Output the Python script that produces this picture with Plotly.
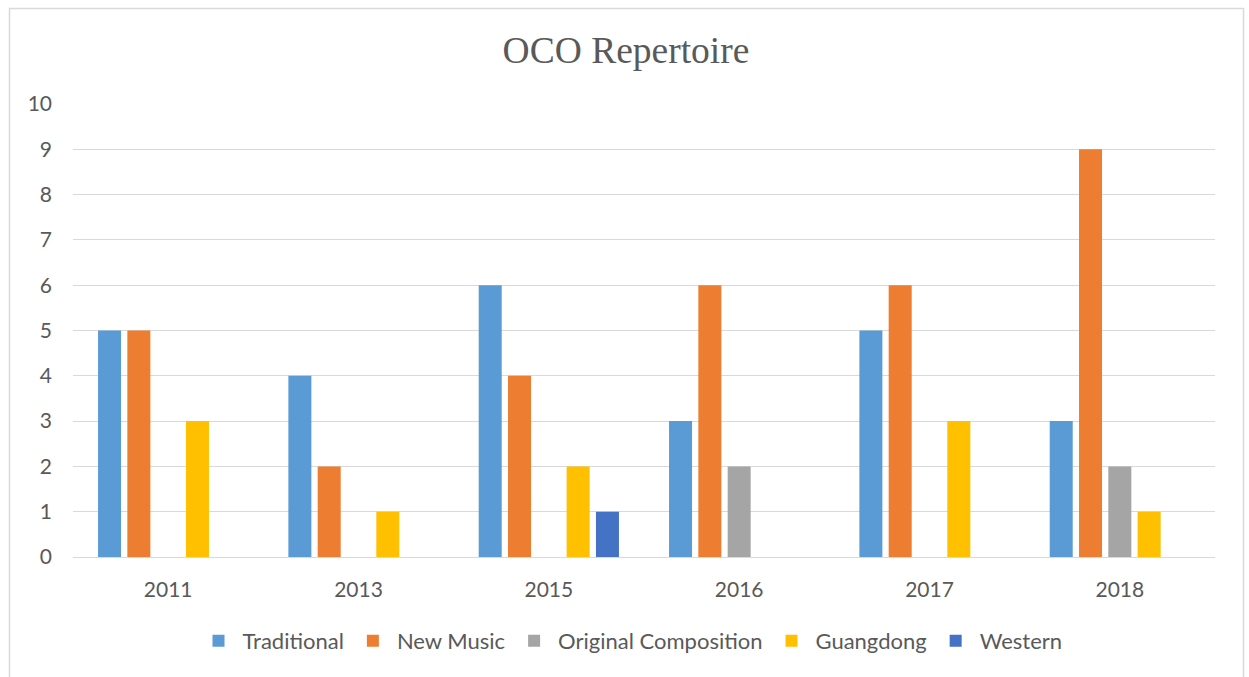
import plotly.graph_objects as go

years = ["2011", "2013", "2015", "2016", "2017", "2018"]
traditional = [5, 4, 6, 3, 5, 3]
new_music = [5, 2, 4, 6, 6, 9]
original_composition = [0, 0, 0, 2, 0, 2]
guangdong = [3, 1, 2, 0, 3, 1]
western = [0, 0, 1, 0, 0, 0]

series = [
    ("Traditional", traditional, "#5B9BD5"),
    ("New Music", new_music, "#ED7D31"),
    ("Original Composition", original_composition, "#A5A5A5"),
    ("Guangdong", guangdong, "#FFC000"),
    ("Western", western, "#4472C4"),
]

W, H = 1249, 677
L, R, T, B = 73, 34, 104, 120
pw, ph = W - L - R, H - T - B

fig = go.Figure()
for name, vals, col in series:
    fig.add_trace(go.Bar(x=years, y=vals, name=name, marker=dict(color=col, line=dict(width=0))))

def px_x(x):
    return (x - L) / pw

def px_y(y):
    return (H - B - y) / ph

fig.update_layout(
    width=W, height=H,
    margin=dict(l=L, r=R, t=T, b=B, autoexpand=False),
    paper_bgcolor="white", plot_bgcolor="white",
    barmode="group", bargap=0.23, bargroupgap=0.215,
    title=dict(text="OCO Repertoire", x=626 / W, xanchor="center", xref="container",
               y=1 - 50 / H, yanchor="middle",
               font=dict(family="Liberation Serif", size=37.5, color="#595959")),
    font=dict(family="Lato", size=21, color="#595959"),
    legend=dict(orientation="h", x=px_x(631), xanchor="center",
                y=px_y(641), yanchor="middle",
                font=dict(family="Lato", size=22, color="#595959"), itemwidth=38,
                traceorder="normal"),
    xaxis=dict(showgrid=False, showline=True, linecolor="#D9D9D9", linewidth=1,
               ticks="", ticklabelstandoff=14, tickfont=dict(size=21, color="#595959")),
    yaxis=dict(range=[0, 10], dtick=1, showgrid=True, gridcolor="#D9D9D9", gridwidth=1,
               zeroline=True, zerolinecolor="#D9D9D9", zerolinewidth=1, showline=False,
               ticks="", ticklabelstandoff=20, tickfont=dict(size=21, color="#595959")),
    shapes=[dict(type="rect", xref="paper", yref="paper",
                 x0=px_x(9.5), x1=px_x(1243.5), y0=px_y(690), y1=px_y(8.5),
                 line=dict(color="#D9D9D9", width=1.5), fillcolor="rgba(0,0,0,0)", layer="below")],
)

fig.write_html("out.html")
